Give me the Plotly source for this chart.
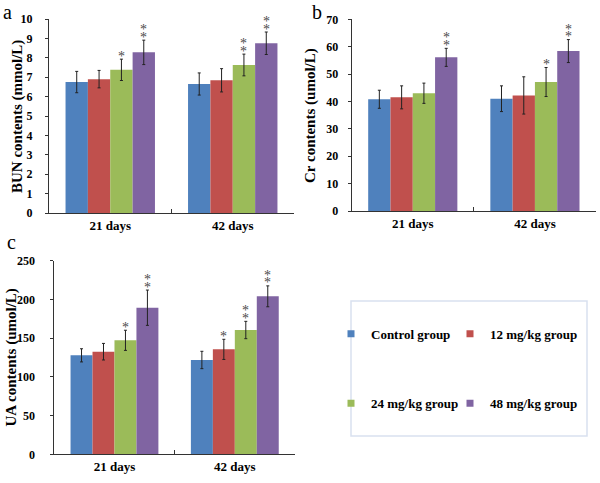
import plotly.graph_objects as go

# ---------------- data ----------------
groups = ["Control group", "12 mg/kg group", "24 mg/kg group", "48 mg/kg group"]
days = ["21 days", "42 days"]
colors = ["#4f81bd", "#c0504d", "#9bbb59", "#8064a2"]
y_titles = ["BUN contents (mmol/L)", "Cr contents (umol/L)", "UA contents (umol/L)"]

# panel a: BUN contents (mmol/L)  -> per group: [21 days, 42 days]
bun_mean = [[6.75, 6.65], [6.90, 6.84], [7.38, 7.63], [8.28, 8.75]]
bun_err = [[0.55, 0.57], [0.45, 0.60], [0.55, 0.56], [0.63, 0.58]]
bun_sig = [["", ""], ["", ""], ["*", "**"], ["**", "**"]]

# panel b: Cr contents (umol/L)
cr_mean = [[40.8, 41.0], [41.5, 42.2], [43.0, 47.1], [56.1, 58.4]]
cr_err = [[3.3, 4.7], [4.2, 6.8], [3.7, 5.3], [3.3, 4.2]]
cr_sig = [["", ""], ["", ""], ["", "*"], ["**", "**"]]

# panel c: UA contents (umol/L)
ua_mean = [[127.8, 121.8], [132.5, 135.5], [147.2, 160.5], [189.3, 204.0]]
ua_err = [[8.5, 11.2], [10.7, 13.0], [13.0, 11.2], [22.8, 13.5]]
ua_sig = [["", ""], ["", "*"], ["*", "**"], ["**", "**"]]

# ---------------- figure ----------------
W, H = 600, 483
SERIF = "Liberation Serif, Times New Roman, serif"
BARGAP = 0.27
AXC = "#333333"

fig = go.Figure()

panels = [
    dict(mean=bun_mean, err=bun_err, sig=bun_sig, xa="x", ya="y"),
    dict(mean=cr_mean, err=cr_err, sig=cr_sig, xa="x2", ya="y2"),
    dict(mean=ua_mean, err=ua_err, sig=ua_sig, xa="x3", ya="y3"),
]

annotations = []
bar_w = (1 - BARGAP) / len(groups)
for p in panels:
    for g, name in enumerate(groups):
        fig.add_trace(go.Bar(
            x=days, y=p["mean"][g], name=name, xaxis=p["xa"], yaxis=p["ya"],
            marker=dict(color=colors[g], line=dict(width=0)),
            error_y=dict(type="data", array=p["err"][g], visible=True,
                         color="#222222", thickness=1, width=1.5),
            showlegend=False,
        ))
        for d in range(len(days)):
            stars = p["sig"][g][d]
            for k in range(len(stars)):
                annotations.append(dict(
                    x=d + (g - 1.5) * bar_w, y=p["mean"][g][d] + p["err"][g][d],
                    xref=p["xa"], yref=p["ya"], text="*", showarrow=False,
                    yanchor="middle", xanchor="center", yshift=3 + 7.5 * k,
                    font=dict(family=SERIF, size=14, color="#4a4a4a"),
                ))

# legend entries (one legend per entry to get the 2x2 layout)
legend_names = ["legend", "legend2", "legend3", "legend4"]
for g, name in enumerate(groups):
    fig.add_trace(go.Scatter(
        x=[None], y=[None], mode="markers", name=name,
        marker=dict(symbol="square", size=7, color=colors[g]),
        legend=legend_names[g], showlegend=True, xaxis="x", yaxis="y",
    ))

def px_x(v):
    return v / W

def px_y(v):
    return (H - v) / H

legend_font = dict(family=SERIF, size=13, color="black", weight="bold")
leg_pos = [(331, 333.7), (450, 333.7), (331, 403.3), (450, 403.3)]
legend_layout = {}
for i, ln in enumerate(legend_names):
    legend_layout[ln] = dict(
        x=px_x(leg_pos[i][0]), y=px_y(leg_pos[i][1]), xanchor="left", yanchor="middle",
        font=legend_font, bgcolor="rgba(0,0,0,0)", borderwidth=0,
    )

tickfont = dict(family=SERIF, size=12, color="black", weight="bold")
xtickfont = dict(family=SERIF, size=13, color="black", weight="bold")
titlefont = dict(family=SERIF, size=15, color="black", weight="bold")

def xaxis(x0, x1, anchor):
    return dict(domain=[px_x(x0), px_x(x1)], anchor=anchor, type="category",
                showline=True, linecolor=AXC, linewidth=1, ticks="inside",
                tickson="boundaries", ticklen=4, tickcolor=AXC, automargin=False,
                tickfont=xtickfont, showgrid=False, zeroline=False, fixedrange=True)

def yaxis(y0, y1, anchor, rng, dtick, tstand):
    return dict(domain=[px_y(y0), px_y(y1)], anchor=anchor, range=rng, dtick=dtick,
                showline=True, linecolor=AXC, linewidth=1, ticks="outside", ticklen=3,
                tickcolor=AXC, tickfont=tickfont, showgrid=False, zeroline=False,
                ticklabelstandoff=tstand, automargin=False, fixedrange=True)

# y-axis titles (rotated) and panel letters
for txt, tx, ty in zip(y_titles, [17, 311, 10.5], [117, 116, 358]):
    annotations.append(dict(x=px_x(tx), y=px_y(ty), xref="paper", yref="paper", text=txt,
                            textangle=-90, showarrow=False, xanchor="center",
                            yanchor="middle", font=titlefont))

letter_font = dict(family=SERIF, size=20, color="black")
for txt, lx, ly in [("a", 7, 12), ("b", 317, 12), ("c", 11, 242)]:
    annotations.append(dict(x=px_x(lx), y=px_y(ly), xref="paper", yref="paper", text=txt,
                            showarrow=False, xanchor="center", yanchor="middle",
                            font=letter_font))

fig.update_layout(
    width=W, height=H, margin=dict(l=0, r=0, t=0, b=0, autoexpand=False),
    paper_bgcolor="white", plot_bgcolor="white",
    barmode="group", bargap=BARGAP, bargroupgap=0,
    xaxis=xaxis(49, 294, "y"),
    yaxis=yaxis(213, 19, "x", [0, 10], 1, 10),
    xaxis2=xaxis(351.7, 596, "y2"),
    yaxis2=yaxis(211, 19.3, "x2", [0, 70], 10, 7),
    xaxis3=xaxis(54.3, 295, "y3"),
    yaxis3=yaxis(454.3, 260.7, "x3", [0, 250], 50, 13),
    annotations=annotations,
    shapes=[dict(type="rect", xref="paper", yref="paper",
                 x0=px_x(351), x1=px_x(587), y0=px_y(436), y1=px_y(301),
                 line=dict(color="#d9e1f0", width=1.5), fillcolor="rgba(0,0,0,0)")],
    **legend_layout,
)

fig.write_html("out.html", config={"displayModeBar": False},
               post_script="document.body.style.margin='0';document.body.style.padding='0';")
